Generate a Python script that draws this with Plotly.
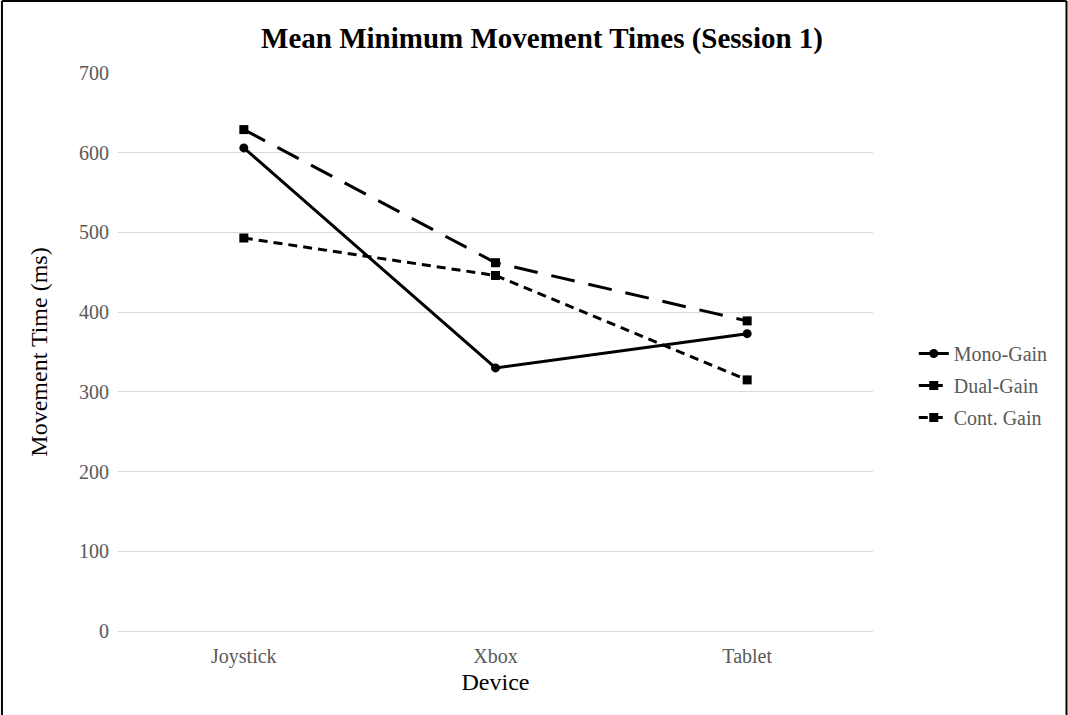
import plotly.graph_objects as go

devices = ["Joystick", "Xbox", "Tablet"]
mono_gain = [606, 330, 373]
dual_gain = [629, 462, 389]
cont_gain = [493, 446, 315]
y_ticks = [0, 100, 200, 300, 400, 500, 600, 700]

FONT = "Liberation Serif, Times New Roman, serif"

fig = go.Figure()
fig.add_trace(go.Scatter(
    x=devices, y=mono_gain, name="Mono-Gain", mode="lines+markers", legendgroup="a",
    line=dict(color="black", width=3),
    marker=dict(symbol="circle", size=9, color="black"),
))
fig.add_trace(go.Scatter(
    x=devices, y=dual_gain, name="Dual-Gain", mode="lines+markers", legendgroup="b",
    line=dict(color="black", width=3, dash="24px,14px"),
    marker=dict(symbol="square", size=9, color="black"),
))
fig.add_trace(go.Scatter(
    x=devices, y=cont_gain, name="Cont. Gain", mode="lines+markers", legendgroup="c",
    line=dict(color="black", width=3, dash="9px,6px"),
    marker=dict(symbol="square", size=9, color="black"),
))

# frame around the whole chart (left, top, right edges)
frame = dict(type="line", xref="paper", yref="paper", line=dict(color="black", width=2))
shapes = [
    dict(frame, x0=-0.1537, x1=-0.1537, y0=-0.2, y1=1.129),
    dict(frame, x0=-0.1537, x1=1.2563, y0=1.129, y1=1.129),
    dict(frame, x0=1.2563, x1=1.2563, y0=-0.2, y1=1.129),
]

fig.update_layout(
    width=1068, height=715,
    margin=dict(l=118, r=195, t=73, b=84),
    paper_bgcolor="white", plot_bgcolor="white",
    font=dict(family=FONT, color="#595959", size=20),
    title=dict(
        text="<b>Mean Minimum Movement Times (Session 1)</b>",
        x=0.5075, xanchor="center", y=0.947, yanchor="middle",
        font=dict(family=FONT, size=29, color="black"),
    ),
    xaxis=dict(
        title=dict(text="Device", font=dict(family=FONT, size=24, color="black"), standoff=6),
        range=[-0.5, 2.5], showgrid=False, showline=False, ticks="",
        ticklabelstandoff=11, tickfont=dict(size=20, color="#595959"),
    ),
    yaxis=dict(
        title=dict(text="Movement Time (ms)", font=dict(family=FONT, size=24, color="black"), standoff=24),
        range=[0, 700], tickvals=y_ticks, showgrid=True, gridcolor="#d9d9d9", gridwidth=1,
        zeroline=True, zerolinecolor="#d9d9d9", zerolinewidth=1, ticks="",
        ticklabelstandoff=8, tickfont=dict(size=20, color="#595959"),
    ),
    legend=dict(
        x=1.054, xanchor="left", y=0.44, yanchor="middle",
        font=dict(family=FONT, size=20, color="#595959"),
        bgcolor="rgba(0,0,0,0)", tracegroupgap=3, itemwidth=30,
    ),
    shapes=shapes,
)

fig.write_html("out.html")
